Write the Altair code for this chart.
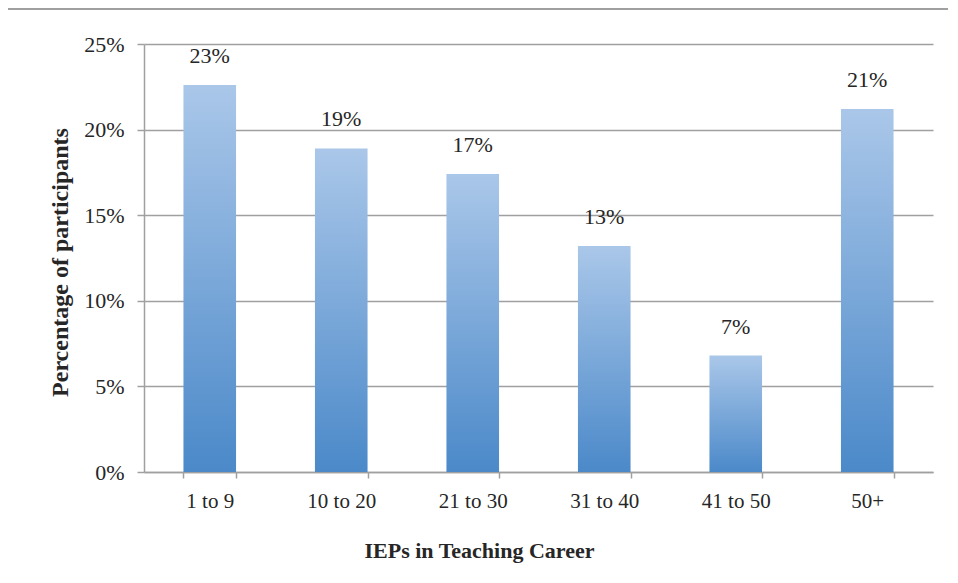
import altair as alt
import pandas as pd

categories = ["1 to 9", "10 to 20", "21 to 30", "31 to 40", "41 to 50", "50+"]
values = [0.226, 0.189, 0.174, 0.132, 0.068, 0.212]
labels = ["23%", "19%", "17%", "13%", "7%", "21%"]

df = pd.DataFrame({"cat": categories, "val": values, "label": labels})

FONT = "Liberation Serif"
GRAY = "#a0a0a0"
TEXT = "#262626"

x = alt.X("cat:N", sort=categories,
          scale=alt.Scale(paddingInner=0.6, paddingOuter=0.3),
          axis=alt.Axis(title="IEPs in Teaching Career", labelAngle=0,
                        tickBand="extent", labelPadding=12, tickSize=6,
                        labelFontSize=21, titleFontSize=22,
                        titleX=335, titleY=85, titleAnchor="start",
                        titleAlign="center", titleBaseline="alphabetic",
                        grid=False))
y = alt.Y("val:Q", scale=alt.Scale(domain=[0, 0.25], nice=False),
          axis=alt.Axis(title="Percentage of participants", format=".0%",
                        values=[0, 0.05, 0.10, 0.15, 0.20, 0.25],
                        tickSize=7, labelPadding=13,
                        labelFontSize=22, titleFontSize=24,
                        titleX=-84, titleY=218, titleAngle=-90,
                        titleAlign="center", titleBaseline="middle",
                        titleAnchor="start"))

grad = alt.Gradient(gradient="linear", x1=0, y1=0, x2=0, y2=1,
                    stops=[alt.GradientStop(color="#aac7e9", offset=0),
                           alt.GradientStop(color="#4b89c9", offset=1)])

bars = alt.Chart(df).mark_bar(color=grad).encode(x=x, y=y)
text = alt.Chart(df).mark_text(baseline="bottom", dy=-17, font=FONT,
                               fontSize=22, color=TEXT).encode(
    x=alt.X("cat:N", sort=categories), y="val:Q", text="label:N")

frame_top = alt.Chart(df).mark_rule(color=GRAY, strokeWidth=2, clip=False).encode(
    x=alt.value(-137), x2=alt.value(950), y=alt.value(-35))
frame_left = alt.Chart(df).mark_rule(color=GRAY, strokeWidth=2, clip=False).encode(
    x=alt.value(-137), y=alt.value(-35), y2=alt.value(650))

chart = alt.layer(frame_top, frame_left, bars, text).properties(
    width=789, height=428,
    autosize=alt.AutoSizeParams(type="none"),
    padding={"left": 136, "top": 36, "right": 15, "bottom": 101},
).configure_view(stroke=None).configure_axis(
    labelFont=FONT, titleFont=FONT,
    labelColor=TEXT, titleColor=TEXT, titleFontWeight="bold",
    domainColor=GRAY, tickColor=GRAY, gridColor=GRAY,
    domainWidth=1.5, tickWidth=1.5, gridWidth=1.5, gridOpacity=1,
).configure_axisX(domain=True).configure_axisY(domain=True, grid=True)

chart.save("out.html", embed_options={"renderer": "svg", "actions": False})
